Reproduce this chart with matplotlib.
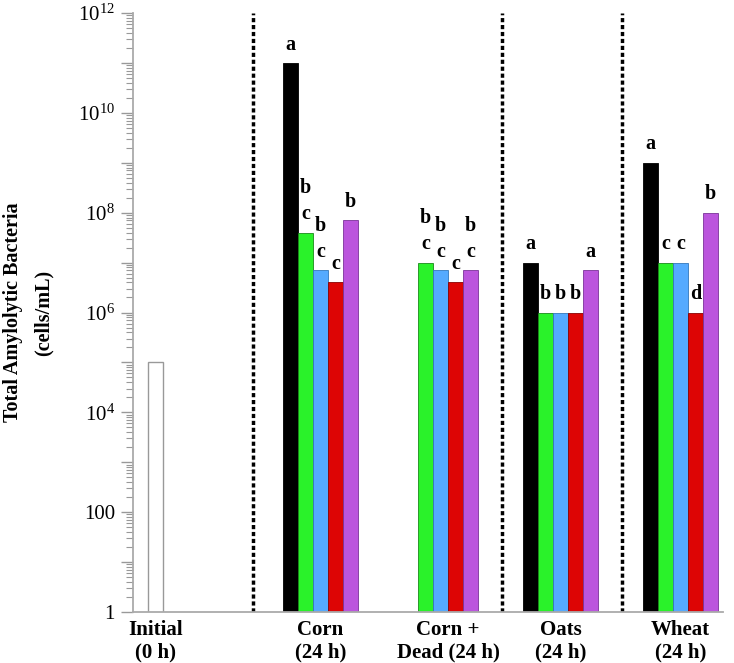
import numpy as np
import matplotlib
matplotlib.use('Agg')
import matplotlib.pyplot as plt
from matplotlib.ticker import LogLocator, NullFormatter, FixedLocator

plt.rcParams['font.family'] = ['Liberation Serif', 'DejaVu Serif']
plt.rcParams['mathtext.fontset'] = 'custom'
plt.rcParams['mathtext.rm'] = 'Liberation Serif'

# data
group_labels = ['Initial\n(0 h)', 'Corn\n(24 h)', 'Corn +\nDead (24 h)', 'Oats\n(24 h)', 'Wheat\n(24 h)']
initial_value = 1e5
black = [1e11, np.nan, 1e7, 1e9]
green = [4e7, 1e7, 1e6, 1e7]
blue = [7e6, 7e6, 1e6, 1e7]
red = [4e6, 4e6, 1e6, 1e6]
purple = [7e7, 7e6, 7e6, 1e8]

black_letters = ['a', '', 'a', 'a']
green_letters = ['b\nc', 'b\nc', 'b', 'c']
blue_letters = ['b\nc', 'b\nc', 'b', 'c']
red_letters = ['c', 'c', 'b', 'd']
purple_letters = ['b', 'b\nc', 'a', 'b']

series = [
    (black, black_letters, '#000000', '#000000'),
    (green, green_letters, '#2af22a', '#1a8a1a'),
    (blue, blue_letters, '#55aaff', '#3377bb'),
    (red, red_letters, '#dd0505', '#8a0000'),
    (purple, purple_letters, '#bb55dd', '#7a3399'),
]

group_starts = [10, 18, 26, 34]
initial_x = 1
dividers = [8, 24.6, 32.6]

fig = plt.figure(figsize=(7.34, 6.63), dpi=100)
ax = fig.add_axes([0.1812, 0.0769, 0.8038, 0.9035])

ax.bar(initial_x, initial_value, width=1, align='edge', color='white',
       edgecolor='#999999', linewidth=1.0)

for i, (vals, letters, fc, ec) in enumerate(series):
    xs = [s + i for s in group_starts]
    ax.bar(xs, vals, width=1, align='edge', color=fc, edgecolor=ec, linewidth=0.6)
    for x, v, lab in zip(xs, vals, letters):
        if lab and not np.isnan(v):
            ax.annotate(lab, (x + 0.5, v), xytext=(0, 6), textcoords='offset points',
                        ha='center', va='bottom', fontsize=14.5, fontweight='bold',
                        linespacing=1.4)

for d in dividers:
    ax.axvline(d, color='black', linewidth=2.5, linestyle=(0, (1.2, 0.8)))

ax.set_yscale('log')
ax.set_ylim(1, 1e12)
ax.set_xlim(0, 39.33)

ax.yaxis.set_major_locator(FixedLocator([10.0 ** k for k in range(13)]))
ax.yaxis.set_minor_locator(LogLocator(base=10, subs=np.arange(2, 10), numticks=20))
ax.yaxis.set_minor_formatter(NullFormatter())
ytick_labels = []
for k in range(13):
    if k % 2:
        ytick_labels.append('')
    elif k == 0:
        ytick_labels.append('1')
    elif k == 2:
        ytick_labels.append('100')
    else:
        ytick_labels.append(r'$\mathregular{10^{%d}}$' % k)
ax.set_yticklabels(ytick_labels, fontsize=15)
ax.tick_params(axis='y', which='major', length=9, width=1, color='#999999', pad=4)
ax.tick_params(axis='y', which='minor', length=5, width=0.8, color='#999999')

centers = [initial_x + 0.5, group_starts[0] + 2.5, group_starts[1] + 3,
           group_starts[2] + 2.5, group_starts[3] + 2.5]
ax.set_xticks(centers)
ax.set_xticklabels(group_labels, fontsize=15, fontweight='bold', linespacing=1.15)
ax.tick_params(axis='x', length=0, pad=6)

for s in ['top', 'right']:
    ax.spines[s].set_visible(False)
for s in ['left', 'bottom']:
    ax.spines[s].set_color('#aaaaaa')
    ax.spines[s].set_linewidth(1.3)

ax.set_ylabel('Total Amylolytic Bacteria\n(cells/mL)', fontsize=14.5, fontweight='bold',
              linespacing=1.7)
ax.yaxis.set_label_coords(-0.135, 0.5)

fig.savefig('out.png', dpi=100)
